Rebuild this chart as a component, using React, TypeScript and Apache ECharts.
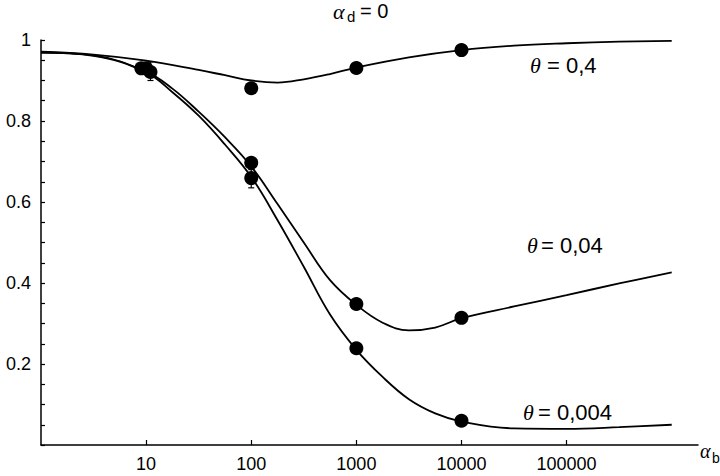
import React, { useEffect, useRef } from "react";
import * as echarts from "echarts";

// Axis ticks
const xTickValues = [10, 100, 1000, 10000, 100000];
const xMin = 1;
const xMax = 1778279; // ~10^6.25, end of drawn axis line
const yMin = 0;
const yMax = 1;
const yInterval = 0.2;

// Model curves (alpha_b, fraction)
const curve04X = [1, 3.16, 10, 31.6, 56.2, 100, 178, 316, 562, 1000, 3162, 10000, 31623, 100000, 316228, 1000000];
const curve04Y = [0.971, 0.964, 0.949, 0.926, 0.913, 0.9, 0.895, 0.903, 0.916, 0.932, 0.957, 0.975, 0.986, 0.992, 0.996, 0.998];

const curve004X = [1, 3.16, 10, 17.8, 31.6, 56.2, 100, 178, 316, 562, 1000, 1778, 3162, 5623, 10000, 31623, 100000, 316228, 1000000];
const curve004Y = [0.969, 0.962, 0.922, 0.88, 0.823, 0.76, 0.688, 0.595, 0.5, 0.407, 0.346, 0.302, 0.283, 0.29, 0.313, 0.342, 0.37, 0.399, 0.426];

const curve0004X = [1, 3.16, 10, 17.8, 31.6, 56.2, 100, 178, 316, 562, 1000, 1778, 3162, 5623, 10000, 31623, 100000, 316228, 1000000];
const curve0004Y = [0.969, 0.961, 0.92, 0.871, 0.813, 0.742, 0.662, 0.555, 0.44, 0.322, 0.235, 0.168, 0.113, 0.078, 0.058, 0.041, 0.04, 0.044, 0.05];

// Measured points
const dots04X = [10, 100, 1000, 10000];
const dots04Y = [0.93, 0.881, 0.931, 0.975];
const dots004X = [9, 100, 1000, 10000];
const dots004Y = [0.93, 0.697, 0.348, 0.314];
const dots0004X = [11, 100, 1000, 10000];
const dots0004Y = [0.921, 0.659, 0.239, 0.06];

// Error bars: [x, low, high]
const errorBars = [
  [11, 0.9, 0.946],
  [100, 0.635, 0.68],
];

const curveLabels = [
  { theta: "θ", value: "= 0,4", thetaX: 530, eqX: 547, baseline: 73 },
  { theta: "θ", value: "= 0,04", thetaX: 527, eqX: 541, baseline: 253 },
  { theta: "θ", value: "= 0,004", thetaX: 523, eqX: 538, baseline: 420 },
];

const SANS = '"Liberation Sans", Arial, Helvetica, sans-serif';
const SERIF = '"Liberation Serif", "Times New Roman", serif';

function pairs(xs: number[], ys: number[]) {
  return xs.map((x, i) => [x, ys[i]]);
}

export default function App() {
  const ref = useRef<HTMLDivElement>(null);

  useEffect(() => {
    if (!ref.current) return;
    const chart = echarts.init(ref.current, undefined, { renderer: "svg" });

    const lineSeries = (name: string, xs: number[], ys: number[]) => ({
      name,
      type: "line",
      data: pairs(xs, ys),
      showSymbol: false,
      smooth: 0.4,
      lineStyle: { color: "#000", width: 1.8 },
      z: 2,
    });
    const dotSeries = (name: string, xs: number[], ys: number[]) => ({
      name,
      type: "scatter",
      data: pairs(xs, ys),
      symbol: "circle",
      symbolSize: 14,
      itemStyle: { color: "#000", opacity: 1 },
      z: 4,
    });

    const graphics: any[] = [
      // title  α_d = 0
      { type: "text", x: 333, y: 11.6, style: { text: "α", font: `italic 22px ${SERIF}`, fill: "#000", textVerticalAlign: "middle" } },
      { type: "text", x: 347, y: 16.8, style: { text: "d", font: `15px ${SANS}`, fill: "#000", textVerticalAlign: "middle" } },
      { type: "text", x: 360, y: 11, style: { text: "= 0", font: `20px ${SANS}`, fill: "#000", textVerticalAlign: "middle" } },
      // x axis name α_b
      { type: "text", x: 700, y: 451, style: { text: "α", font: `italic 20px ${SERIF}`, fill: "#000", textVerticalAlign: "middle" } },
      { type: "text", x: 712, y: 458, style: { text: "b", font: `14px ${SANS}`, fill: "#000", textVerticalAlign: "middle" } },
    ];
    curveLabels.forEach((l) => {
      graphics.push({
        type: "text",
        x: l.thetaX,
        y: l.baseline - 7.4,
        style: { text: l.theta, font: `italic 22px ${SERIF}`, fill: "#000", textVerticalAlign: "middle" },
      });
      graphics.push({
        type: "text",
        x: l.eqX,
        y: l.baseline - 7.6,
        style: { text: l.value, font: `22px ${SANS}`, fill: "#000", textVerticalAlign: "middle" },
      });
    });

    const option: any = {
      animation: false,
      backgroundColor: "#fff",
      grid: { left: 41, right: 22, top: 40, bottom: 31, containLabel: false },
      xAxis: {
        type: "log",
        logBase: 10,
        min: xMin,
        max: xMax,
        axisLine: { show: true, lineStyle: { color: "#000", width: 1.5 } },
        axisTick: { show: true, inside: true, length: 5, customValues: xTickValues, lineStyle: { color: "#000", width: 1.2 } },
        axisLabel: {
          customValues: xTickValues,
          color: "#000",
          fontSize: 18,
          fontFamily: SANS,
          margin: 10,
          formatter: (v: number) => String(Math.round(v)),
        },
        splitLine: { show: false },
        minorTick: { show: false },
      },
      yAxis: {
        type: "value",
        min: yMin,
        max: yMax,
        interval: yInterval,
        axisLine: { show: true, lineStyle: { color: "#000", width: 1.5 } },
        axisTick: { show: true, inside: true, length: 4, lineStyle: { color: "#000", width: 1.2 } },
        minorTick: { show: true, splitNumber: 4, length: 4, lineStyle: { color: "#000", width: 1.2 } },
        axisLabel: {
          color: "#000",
          fontSize: 18,
          fontFamily: SANS,
          margin: 10,
          formatter: (v: number) => (v === 0 ? "" : String(Number(v.toFixed(1)))),
        },
        splitLine: { show: false },
      },
      series: [
        lineSeries("θ = 0,4", curve04X, curve04Y),
        lineSeries("θ = 0,04", curve004X, curve004Y),
        lineSeries("θ = 0,004", curve0004X, curve0004Y),
        {
          type: "custom",
          data: errorBars,
          encode: { x: 0, y: [1, 2] },
          z: 3,
          renderItem: (_p: any, api: any) => {
            const x = api.value(0);
            const lo = api.coord([x, api.value(1)]);
            const hi = api.coord([x, api.value(2)]);
            const w = 3;
            const st = { stroke: "#000", lineWidth: 1.2 };
            return {
              type: "group",
              children: [
                { type: "line", shape: { x1: lo[0], y1: lo[1], x2: hi[0], y2: hi[1] }, style: st },
                { type: "line", shape: { x1: lo[0] - w, y1: lo[1], x2: lo[0] + w, y2: lo[1] }, style: st },
                { type: "line", shape: { x1: hi[0] - w, y1: hi[1], x2: hi[0] + w, y2: hi[1] }, style: st },
              ],
            };
          },
        },
        dotSeries("pts 0,4", dots04X, dots04Y),
        dotSeries("pts 0,04", dots004X, dots004Y),
        dotSeries("pts 0,004", dots0004X, dots0004Y),
      ],
      graphic: graphics,
    };

    chart.setOption(option);
    return () => chart.dispose();
  }, []);

  return (
    <div
      ref={ref}
      style={{ position: "fixed", left: 0, top: 0, width: 720, height: 476, background: "#fff" }}
    />
  );
}
